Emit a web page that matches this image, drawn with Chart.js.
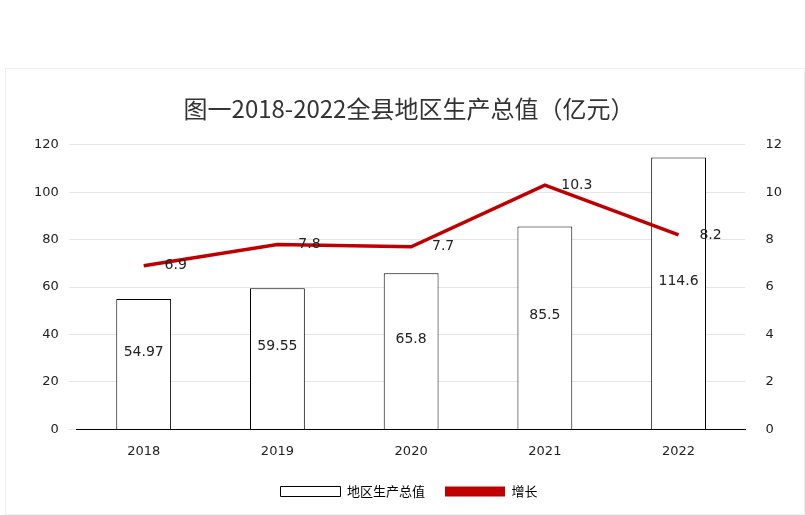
<!DOCTYPE html><html><head><meta charset="utf-8">
<script src="https://cdn.jsdelivr.net/npm/chart.js@4"></script>
<style>html,body{margin:0;background:#fff}#w{position:absolute;left:5px;top:68px;width:800px;height:447px;border:1px solid #eee;box-sizing:border-box}</style></head><body>
<div id="w"><canvas id="c"></canvas></div>
<script>
const categories=['2018','2019','2020','2021','2022'];
const gdpValues=[54.97,59.55,65.8,85.5,114.6];
const growthValues=[6.9,7.8,7.7,10.3,8.2];
const leftTicks=[0,20,40,60,80,100,120];
const rightTicks=[0,2,4,6,8,10,12];
const F='"Noto Sans CJK SC","DejaVu Sans",sans-serif';
const D='"DejaVu Sans",sans-serif';
const labels={id:'labels',afterDatasetsDraw(ch){const c=ch.ctx;c.save();c.font='14px '+D;c.fillStyle='#222';c.textAlign='center';c.textBaseline='middle';
ch.getDatasetMeta(0).data.forEach((b,i)=>{c.fillText(String(gdpValues[i]),b.x,(b.y+b.base)/2-12);});
ch.getDatasetMeta(1).data.forEach((p,i)=>{c.fillText(String(growthValues[i]),p.x+32,p.y);});c.restore();}};
new Chart(document.getElementById('c'),{data:{labels:categories,datasets:[
{type:'bar',label:'地区生产总值',data:gdpValues,backgroundColor:'#fff',borderColor:'#000',borderWidth:1,barPercentage:0.41,categoryPercentage:1,yAxisID:'y',order:2},
{type:'line',label:'增长',data:growthValues,borderColor:'#c00000',backgroundColor:'#c00000',borderWidth:3.5,pointRadius:0,yAxisID:'y1',order:1}]},
options:{responsive:true,maintainAspectRatio:false,animation:false,
layout:{padding:{left:18,right:10,top:15,bottom:6}},
plugins:{title:{display:true,text:'图一2018-2022全县地区生产总值（亿元）',font:{family:F,size:24,weight:'normal'},color:'#333',padding:{top:10,bottom:22}},
legend:{position:'bottom',labels:{font:{family:F,size:13},color:'#333',boxWidth:60,boxHeight:10,padding:20,generateLabels(ch){return [{text:'地区生产总值',fillStyle:'#fff',strokeStyle:'#000',lineWidth:1,datasetIndex:0},{text:'增长',fillStyle:'#c00000',strokeStyle:'#c00000',lineWidth:0,datasetIndex:1}]}}},tooltip:{enabled:false}},
scales:{x:{grid:{display:false},border:{color:'#000'},ticks:{font:{family:D,size:13},color:'#222',padding:6}},
y:{position:'left',min:0,max:120,afterBuildTicks(a){a.ticks=leftTicks.map(v=>({value:v}))},grid:{color:'#e6e6e6'},border:{display:false},ticks:{font:{family:D,size:13},color:'#222',padding:10}},
y1:{position:'right',min:0,max:12,afterBuildTicks(a){a.ticks=rightTicks.map(v=>({value:v}))},grid:{display:false},border:{display:false},ticks:{font:{family:D,size:13},color:'#222',padding:12}}}},
plugins:[labels]});
</script></body></html>
